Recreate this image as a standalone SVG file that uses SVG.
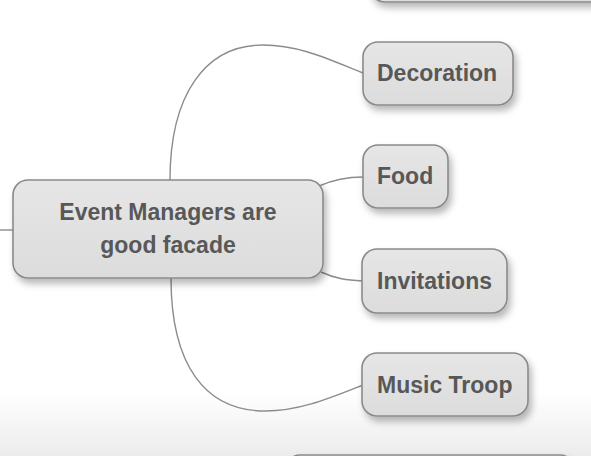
<svg xmlns="http://www.w3.org/2000/svg" width="591" height="456" viewBox="0 0 591 456">
<defs>
<linearGradient id="bg" x1="0" y1="0" x2="0" y2="1">
<stop offset="0" stop-color="#ffffff"/>
<stop offset="0.86" stop-color="#ffffff"/>
<stop offset="1" stop-color="#ececec"/>
</linearGradient>
<linearGradient id="nodefill" x1="0" y1="0" x2="0" y2="1">
<stop offset="0" stop-color="#e6e6e6"/>
<stop offset="1" stop-color="#dcdcdc"/>
</linearGradient>
<filter id="shadow" x="-20%" y="-20%" width="150%" height="160%">
<feDropShadow dx="3" dy="5" stdDeviation="3.5" flood-color="#000" flood-opacity="0.28"/>
</filter>
</defs>
<style>
.node rect { fill: url(#nodefill); stroke: #8a8a8a; stroke-width: 1.6; filter: url(#shadow); }
.node text { font-family: "Liberation Sans", Arial, sans-serif; font-weight: bold; font-size: 23px; fill: #585858; }
.conn path { fill: none; stroke: #8c8c8c; stroke-width: 1.4; }
</style>
<rect x="0" y="0" width="591" height="456" fill="url(#bg)"/>

<g class="conn" id="connectors">
<path d="M0,230 L13,230"/>
<path d="M170,180 C170,95 205,45 263,45 C300,45 330,60 363,73"/>
<path d="M319,186 C335,179 347,177 363,177"/>
<path d="M321,272 C336,279 347,280 363,281"/>
<path d="M171,278 C171,365 205,411 265,411 C300,411 330,398 363,385"/>
</g>

<g class="node" id="node-top">
<rect x="370" y="-60" width="260" height="62" rx="15"/>
</g>

<g class="node" id="node-bottom">
<rect x="285" y="455" width="290" height="62" rx="15"/>
</g>

<g class="node" id="node-center">
<rect x="13" y="180" width="310" height="98" rx="15"/>
<text x="168" y="220" text-anchor="middle">Event Managers are</text>
<text x="168" y="253" text-anchor="middle">good facade</text>
</g>

<g class="node" id="node-decoration">
<rect x="363" y="42" width="150" height="63" rx="15"/>
<text x="377" y="81">Decoration</text>
</g>

<g class="node" id="node-food">
<rect x="363" y="145" width="85" height="63" rx="15"/>
<text x="377" y="184">Food</text>
</g>

<g class="node" id="node-invitations">
<rect x="362" y="249" width="145" height="64" rx="15"/>
<text x="377" y="289">Invitations</text>
</g>

<g class="node" id="node-music">
<rect x="362" y="353" width="166" height="63" rx="15"/>
<text x="377" y="393">Music Troop</text>
</g>
</svg>
